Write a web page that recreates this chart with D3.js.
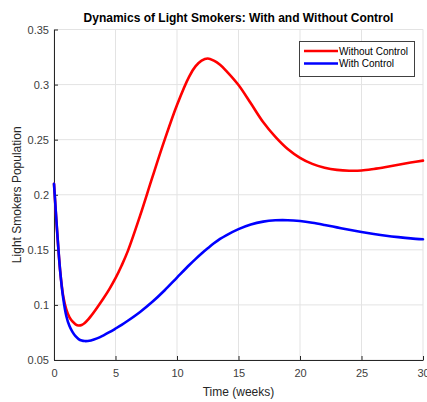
<!DOCTYPE html>
<html>
<head>
<meta charset="utf-8">
<script src="https://cdn.jsdelivr.net/npm/d3@7"></script>
<style>
  html, body { margin: 0; padding: 0; background: #ffffff; }
  svg { display: block; font-family: "Liberation Sans", Arial, sans-serif; }
</style>
</head>
<body>
<svg id="chart" width="427" height="402"></svg>
<script>
// Time points (weeks)
const timeWeeks = [0, 0.25, 0.5, 0.75, 1, 1.25, 1.5, 1.75, 2, 2.25, 2.5, 2.75, 3, 3.5, 4, 4.5, 5, 5.5, 6, 7, 8, 9, 10, 11, 11.5, 12, 12.5, 13, 13.5, 14, 15, 16, 17, 18, 19, 20, 21, 22, 23, 24, 25, 26, 27, 28, 29, 30];

// Light smokers without control
const withoutControl = [0.21, 0.167, 0.131, 0.108, 0.096, 0.089, 0.085, 0.0824, 0.0813, 0.0818, 0.0836, 0.0864, 0.0898, 0.0975, 0.1056, 0.1144, 0.1243, 0.1358, 0.1488, 0.181, 0.216, 0.250, 0.2815, 0.3075, 0.3165, 0.3218, 0.3237, 0.3217, 0.318, 0.3125, 0.2996, 0.283, 0.266, 0.2525, 0.2415, 0.2335, 0.228, 0.2246, 0.2226, 0.2218, 0.222, 0.2234, 0.2252, 0.2272, 0.2292, 0.231];

// Light smokers with control
const withControl = [0.21, 0.168, 0.131, 0.106, 0.090, 0.081, 0.0755, 0.0716, 0.0690, 0.0677, 0.0672, 0.0673, 0.0678, 0.0696, 0.0722, 0.0752, 0.0785, 0.0819, 0.0856, 0.0936, 0.1028, 0.1133, 0.1248, 0.1362, 0.1416, 0.1467, 0.1514, 0.1559, 0.1599, 0.1632, 0.1688, 0.1730, 0.1756, 0.1768, 0.1769, 0.1761, 0.1746, 0.1726, 0.1704, 0.1682, 0.1662, 0.1644, 0.1628, 0.1615, 0.1604, 0.1596];

const xTicks = [0, 5, 10, 15, 20, 25, 30];
const yTicks = [0.05, 0.1, 0.15, 0.2, 0.25, 0.3, 0.35];

const seriesNames = ["Without Control", "With Control"];
const seriesColors = ["#ff0000", "#0000ff"];

const margin = { left: 54, right: 4, top: 29.5, bottom: 42 };
const W = 427, H = 402;

const svg = d3.select("#chart");

const x = d3.scaleLinear().domain([0, 30]).range([margin.left, W - margin.right]);
const y = d3.scaleLinear().domain([0.05, 0.35]).range([H - margin.bottom, margin.top]);

// Grid
const grid = svg.append("g");
grid.selectAll("line.vx").data(xTicks).join("line")
  .attr("x1", d => x(d)).attr("x2", d => x(d))
  .attr("y1", y(0.05)).attr("y2", y(0.35))
  .attr("stroke", "#e3e3e3").attr("stroke-width", 1);
grid.selectAll("line.hy").data(yTicks).join("line")
  .attr("x1", x(0)).attr("x2", x(30))
  .attr("y1", d => y(d)).attr("y2", d => y(d))
  .attr("stroke", "#e3e3e3").attr("stroke-width", 1);

// Axes
const axisColor = "#262626";
const xAxis = svg.append("g")
  .attr("transform", `translate(0,${y(0.05)})`)
  .call(d3.axisBottom(x).tickValues(xTicks).tickSizeInner(-4).tickSizeOuter(0).tickPadding(9).tickFormat(d3.format("d")));
const yAxis = svg.append("g")
  .attr("transform", `translate(${x(0)},0)`)
  .call(d3.axisLeft(y).tickValues(yTicks).tickSizeInner(-4).tickSizeOuter(0).tickPadding(5).tickFormat(d => String(+d.toFixed(2))));

[xAxis, yAxis].forEach(g => {
  g.select(".domain").attr("stroke", axisColor).attr("stroke-width", 1);
  g.selectAll(".tick line").attr("stroke", axisColor);
  g.selectAll(".tick text").attr("fill", "#404040").attr("font-size", 11)
    .attr("font-family", "Liberation Sans, Arial, sans-serif");
});

// Curves
const line = d3.line()
  .x((d, i) => x(timeWeeks[i]))
  .y(d => y(d))
  .curve(d3.curveCatmullRom.alpha(0.5));

[withoutControl, withControl].forEach((vals, k) => {
  svg.append("path")
    .datum(vals)
    .attr("d", line)
    .attr("fill", "none")
    .attr("stroke", seriesColors[k])
    .attr("stroke-width", 2.6)
    .attr("stroke-linejoin", "round")
    .attr("stroke-linecap", "round");
});

// Title
svg.append("text")
  .attr("x", (x(0) + x(30)) / 2).attr("y", 22)
  .attr("text-anchor", "middle")
  .attr("font-size", 12).attr("font-weight", "bold").attr("fill", "#000")
  .text("Dynamics of Light Smokers: With and Without Control");

// Axis labels
svg.append("text")
  .attr("x", (x(0) + x(30)) / 2).attr("y", 396)
  .attr("text-anchor", "middle")
  .attr("font-size", 12).attr("fill", "#262626")
  .text("Time (weeks)");

svg.append("text")
  .attr("transform", `translate(21,${(y(0.05) + y(0.35)) / 2}) rotate(-90)`)
  .attr("text-anchor", "middle")
  .attr("font-size", 12).attr("fill", "#262626")
  .text("Light Smokers Population");

// Legend
const legend = svg.append("g").attr("transform", "translate(299,41)");
legend.append("rect")
  .attr("x", 0.5).attr("y", 0.5).attr("width", 115).attr("height", 35)
  .attr("fill", "#fff").attr("stroke", "#404040").attr("stroke-width", 1);
seriesNames.forEach((name, k) => {
  const ly = 10 + k * 12.5;
  legend.append("line")
    .attr("x1", 5).attr("x2", 39).attr("y1", ly).attr("y2", ly)
    .attr("stroke", seriesColors[k]).attr("stroke-width", 2.6);
  legend.append("text")
    .attr("x", 40).attr("y", ly + 3.5)
    .attr("font-size", 10).attr("fill", "#000")
    .text(name);
});
</script>
</body>
</html>
